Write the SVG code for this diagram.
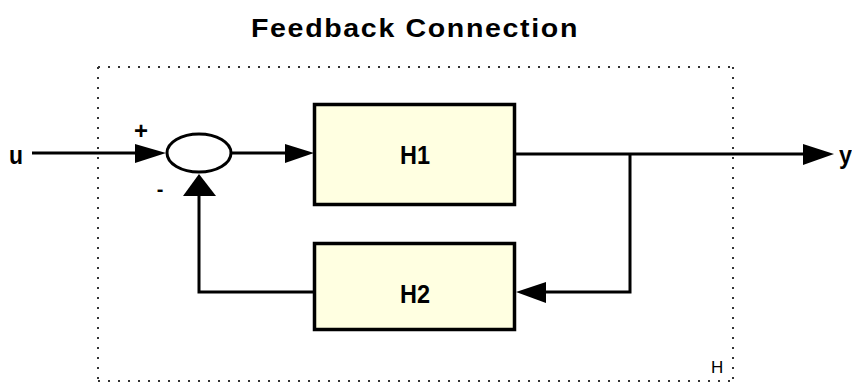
<svg xmlns="http://www.w3.org/2000/svg" width="852" height="384" viewBox="0 0 852 384">
<style>
.box{fill:#FFFFE1;stroke:#000;stroke-width:3.5}
.wire{fill:none;stroke:#000;stroke-width:3}
.arrow{fill:#000;stroke:none}
.lbl{font-family:"Liberation Sans",Arial,sans-serif;font-weight:bold;fill:#000}
.frame{fill:none;stroke:#333;stroke-width:2;stroke-dasharray:2 8}
</style>
<rect width="852" height="384" fill="#fff"/>
<text class="lbl" x="251" y="37" font-size="26" letter-spacing="1.5" textLength="328" lengthAdjust="spacingAndGlyphs">Feedback Connection</text>
<g id="frame">
<line class="frame" x1="98" y1="67" x2="733" y2="67"/>
<line class="frame" x1="98" y1="67" x2="98" y2="381"/>
<line class="frame" x1="733" y1="67" x2="733" y2="381"/>
<line class="frame" x1="98" y1="381" x2="733" y2="381"/>
<text x="711" y="373" font-family="Liberation Sans,Arial,sans-serif" font-size="17" fill="#000">H</text>
</g>
<g id="connectors">
<line class="wire" x1="32" y1="153" x2="137" y2="153"/>
<polygon class="arrow" points="135,144 166,153 135,163"/>
<line class="wire" x1="232" y1="153" x2="287" y2="153"/>
<polygon class="arrow" points="285,144 314,153 285,163"/>
<line class="wire" x1="516" y1="154" x2="805" y2="154"/>
<polygon class="arrow" points="803,144 834,154 803,165"/>
<polyline class="wire" points="630,154 630,292 544,292"/>
<polygon class="arrow" points="546,282 516,292 546,303"/>
<polyline class="wire" points="313,292 199,292 199,196"/>
<polygon class="arrow" points="183,196 199,174 216,196"/>
</g>
<g id="u"><text class="lbl" x="9" y="164" font-size="26" textLength="14" lengthAdjust="spacingAndGlyphs">u</text></g>
<g id="y"><text class="lbl" x="839" y="164" font-size="26" textLength="13" lengthAdjust="spacingAndGlyphs">y</text></g>
<g id="sum">
<ellipse cx="199" cy="153" rx="32" ry="19" fill="#fff" stroke="#000" stroke-width="3"/>
<text class="lbl" x="141" y="139" font-size="24" text-anchor="middle">+</text>
<text class="lbl" x="160" y="196" font-size="20" text-anchor="middle">-</text>
</g>
<g id="H1">
<rect class="box" x="314.5" y="104.5" width="200" height="100"/>
<text class="lbl" x="400" y="164" font-size="25" textLength="30" lengthAdjust="spacingAndGlyphs">H1</text>
</g>
<g id="H2">
<rect class="box" x="314.5" y="243.5" width="200" height="86"/>
<text class="lbl" x="400" y="303" font-size="25" textLength="30" lengthAdjust="spacingAndGlyphs">H2</text>
</g>
</svg>
